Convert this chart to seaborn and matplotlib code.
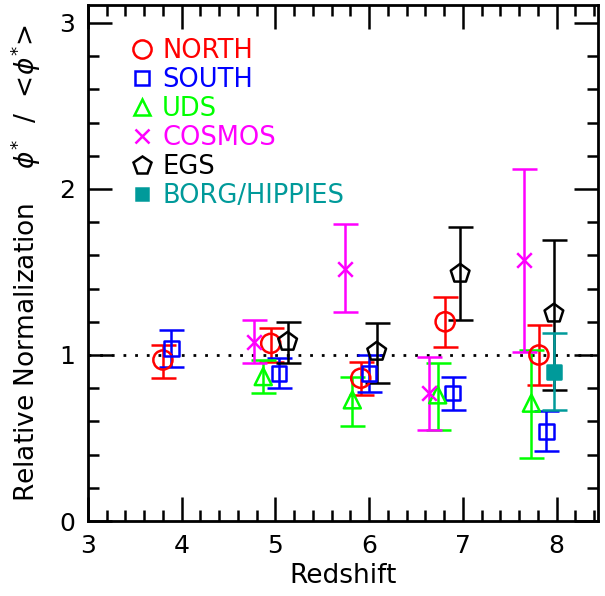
import numpy as np
import pandas as pd
import matplotlib
matplotlib.use("Agg")
import matplotlib.pyplot as plt
from matplotlib.lines import Line2D
from matplotlib.ticker import MultipleLocator
import seaborn as sns

# --- Data ---
surveys = ["NORTH", "SOUTH", "UDS", "COSMOS", "EGS", "BORG/HIPPIES"]
colors = ["#ff0000", "#0000ff", "#00ff00", "#ff00ff", "#000000", "#009a9a"]

north_z = [3.80, 4.95, 5.91, 6.81, 7.81]
north_phi = [0.97, 1.07, 0.86, 1.20, 1.00]
north_lo = [0.86, 0.96, 0.76, 1.05, 0.82]
north_hi = [1.06, 1.16, 0.96, 1.35, 1.18]

south_z = [3.89, 5.04, 6.00, 6.89, 7.89]
south_phi = [1.04, 0.89, 0.89, 0.77, 0.54]
south_lo = [0.93, 0.80, 0.78, 0.67, 0.42]
south_hi = [1.15, 0.98, 1.00, 0.87, 0.66]

uds_z = [4.87, 5.82, 6.73, 7.73]
uds_phi = [0.87, 0.73, 0.76, 0.71]
uds_lo = [0.77, 0.57, 0.55, 0.38]
uds_hi = [0.97, 0.87, 0.95, 1.03]

cosmos_z = [4.77, 5.74, 6.64, 7.65]
cosmos_phi = [1.08, 1.52, 0.77, 1.57]
cosmos_lo = [0.95, 1.26, 0.55, 1.02]
cosmos_hi = [1.21, 1.79, 0.99, 2.12]

egs_z = [5.13, 6.08, 6.97, 7.97]
egs_phi = [1.08, 1.02, 1.49, 1.25]
egs_lo = [0.95, 0.83, 1.21, 0.79]
egs_hi = [1.20, 1.19, 1.77, 1.69]

borg_z = [7.97]
borg_phi = [0.90]
borg_lo = [0.67]
borg_hi = [1.13]

series = {
    "NORTH": (north_z, north_phi, north_lo, north_hi),
    "SOUTH": (south_z, south_phi, south_lo, south_hi),
    "UDS": (uds_z, uds_phi, uds_lo, uds_hi),
    "COSMOS": (cosmos_z, cosmos_phi, cosmos_lo, cosmos_hi),
    "EGS": (egs_z, egs_phi, egs_lo, egs_hi),
    "BORG/HIPPIES": (borg_z, borg_phi, borg_lo, borg_hi),
}

# marker, size (points^2), filled
styles = {
    "NORTH": ("o", 190, False),
    "SOUTH": ("s", 110, False),
    "UDS": ("^", 150, False),
    "COSMOS": ("x", 110, True),
    "EGS": ("p", 200, False),
    "BORG/HIPPIES": ("s", 90, True),
}

rows = []
for name, (z, phi, lo, hi) in series.items():
    for a, b, c, d in zip(z, phi, lo, hi):
        rows.append({"survey": name, "z": a, "phi": b, "lo": c, "hi": d})
df = pd.DataFrame(rows)

sns.set_theme(style="ticks")
plt.rcParams["font.family"] = ["DejaVu Sans"]
plt.rcParams["text.color"] = "black"
plt.rcParams["axes.labelcolor"] = "black"

fig = plt.figure(figsize=(6.05, 5.96), dpi=100)
ax = fig.add_axes([0.1453, 0.1258, 0.8431, 0.8658])

# reference line at unity
ax.axhline(1.0, color="black", linestyle=(0, (1, 3.2)), linewidth=2.0, zorder=1)

for name, col in zip(surveys, colors):
    sub = df[df["survey"] == name]
    ax.errorbar(sub["z"], sub["phi"],
                yerr=[sub["phi"] - sub["lo"], sub["hi"] - sub["phi"]],
                fmt="none", ecolor=col, elinewidth=1.8, capsize=9,
                capthick=1.8, zorder=2)
    m, s, filled = styles[name]
    sns.scatterplot(data=sub, x="z", y="phi", marker=m, s=s, color=col,
                    facecolor=col if filled else "none", edgecolor=col,
                    linewidth=1.8, legend=False, ax=ax, zorder=3)

ax.set_xlim(3, 8.44)
ax.set_ylim(0, 3.108)
ax.xaxis.set_major_locator(MultipleLocator(1))
ax.xaxis.set_minor_locator(MultipleLocator(0.2))
ax.yaxis.set_major_locator(MultipleLocator(1))
ax.yaxis.set_minor_locator(MultipleLocator(0.2))
ax.tick_params(which="both", direction="in", top=True, right=True,
               width=1.8, colors="black", labelsize=18)
ax.tick_params(which="major", length=17, pad=9)
ax.tick_params(which="minor", length=8)
for sp in ax.spines.values():
    sp.set_linewidth(2)
    sp.set_color("black")

ax.set_xlabel("Redshift", fontsize=19, labelpad=4)
ax.set_ylabel(r"Relative Normalization    $\phi^{*}$  /  <$\phi^{*}$>",
              fontsize=19, labelpad=12)

handles = []
for name, col in zip(surveys, colors):
    m, s, filled = styles[name]
    handles.append(Line2D([], [], linestyle="", marker=m, markersize=np.sqrt(s) * 0.95,
                          markerfacecolor=col if filled else "none",
                          markeredgecolor=col, markeredgewidth=1.8))
ax.legend(handles, surveys, loc="upper left", bbox_to_anchor=(0.08, 0.937),
          frameon=False, fontsize=18.5, labelcolor=colors, handlelength=1.0,
          handletextpad=0.3, labelspacing=0.12, borderaxespad=0, borderpad=0)

fig.savefig("out.png", dpi=100)
